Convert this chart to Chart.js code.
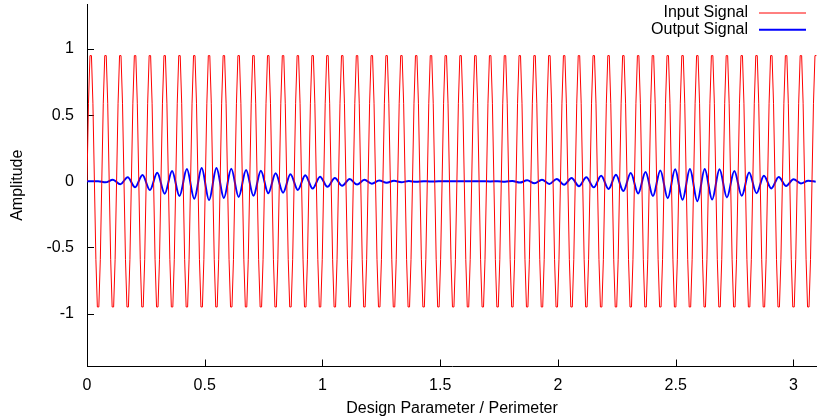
<!DOCTYPE html>
<html>
<head>
<meta charset="utf-8">
<script src="https://cdn.jsdelivr.net/npm/chart.js@4"></script>
<style>
  html, body { margin: 0; padding: 0; background: #fff; }
  #wrap { width: 817px; height: 420px; }
</style>
</head>
<body>
<div id="wrap"><canvas id="chart" width="817" height="420"></canvas></div>
<script>
// Axis ticks
const xTicks = [0, 0.5, 1, 1.5, 2, 2.5, 3];
const yTicks = [-1, -0.5, 0, 0.5, 1];

// Input signal, one sample every pi/500 (10 samples per cycle, one cycle per row)
const inputStep = Math.PI / 500;
const inputValues = [
  0, .59, .95, .95, .59, 0, -.59, -.95, -.95, -.59,
  0, .59, .95, .95, .59, 0, -.59, -.95, -.95, -.59,
  0, .59, .95, .95, .59, 0, -.59, -.95, -.95, -.59,
  0, .59, .95, .95, .59, 0, -.59, -.95, -.95, -.59,
  0, .59, .95, .95, .59, 0, -.59, -.95, -.95, -.59,
  0, .59, .95, .95, .59, 0, -.59, -.95, -.95, -.59,
  0, .59, .95, .95, .59, 0, -.59, -.95, -.95, -.59,
  0, .59, .95, .95, .59, 0, -.59, -.95, -.95, -.59,
  0, .59, .95, .95, .59, 0, -.59, -.95, -.95, -.59,
  0, .59, .95, .95, .59, 0, -.59, -.95, -.95, -.59,
  0, .59, .95, .95, .59, 0, -.59, -.95, -.95, -.59,
  0, .59, .95, .95, .59, 0, -.59, -.95, -.95, -.59,
  0, .59, .95, .95, .59, 0, -.59, -.95, -.95, -.59,
  0, .59, .95, .95, .59, 0, -.59, -.95, -.95, -.59,
  0, .59, .95, .95, .59, 0, -.59, -.95, -.95, -.59,
  0, .59, .95, .95, .59, 0, -.59, -.95, -.95, -.59,
  0, .59, .95, .95, .59, 0, -.59, -.95, -.95, -.59,
  0, .59, .95, .95, .59, 0, -.59, -.95, -.95, -.59,
  0, .59, .95, .95, .59, 0, -.59, -.95, -.95, -.59,
  0, .59, .95, .95, .59, 0, -.59, -.95, -.95, -.59,
  0, .59, .95, .95, .59, 0, -.59, -.95, -.95, -.59,
  0, .59, .95, .95, .59, 0, -.59, -.95, -.95, -.59,
  0, .59, .95, .95, .59, 0, -.59, -.95, -.95, -.59,
  0, .59, .95, .95, .59, 0, -.59, -.95, -.95, -.59,
  0, .59, .95, .95, .59, 0, -.59, -.95, -.95, -.59,
  0, .59, .95, .95, .59, 0, -.59, -.95, -.95, -.59,
  0, .59, .95, .95, .59, 0, -.59, -.95, -.95, -.59,
  0, .59, .95, .95, .59, 0, -.59, -.95, -.95, -.59,
  0, .59, .95, .95, .59, 0, -.59, -.95, -.95, -.59,
  0, .59, .95, .95, .59, 0, -.59, -.95, -.95, -.59,
  0, .59, .95, .95, .59, 0, -.59, -.95, -.95, -.59,
  0, .59, .95, .95, .59, 0, -.59, -.95, -.95, -.59,
  0, .59, .95, .95, .59, 0, -.59, -.95, -.95, -.59,
  0, .59, .95, .95, .59, 0, -.59, -.95, -.95, -.59,
  0, .59, .95, .95, .59, 0, -.59, -.95, -.95, -.59,
  0, .59, .95, .95, .59, 0, -.59, -.95, -.95, -.59,
  0, .59, .95, .95, .59, 0, -.59, -.95, -.95, -.59,
  0, .59, .95, .95, .59, 0, -.59, -.95, -.95, -.59,
  0, .59, .95, .95, .59, 0, -.59, -.95, -.95, -.59,
  0, .59, .95, .95, .59, 0, -.59, -.95, -.95, -.59,
  0, .59, .95, .95, .59, 0, -.59, -.95, -.95, -.59,
  0, .59, .95, .95, .59, 0, -.59, -.95, -.95, -.59,
  0, .59, .95, .95, .59, 0, -.59, -.95, -.95, -.59,
  0, .59, .95, .95, .59, 0, -.59, -.95, -.95, -.59,
  0, .59, .95, .95, .59, 0, -.59, -.95, -.95, -.59,
  0, .59, .95, .95, .59, 0, -.59, -.95, -.95, -.59,
  0, .59, .95, .95, .59, 0, -.59, -.95, -.95, -.59,
  0, .59, .95, .95, .59, 0, -.59, -.95, -.95, -.59,
  0, .59, .95, .95, .59, 0, -.59, -.95, -.95, -.59,
  0, .59, .95, .95
];

// Output signal, read at each half cycle of the input (its peaks and troughs)
const outputStart = Math.PI / 200;
const outputStep = Math.PI / 100;
const outputValues = [
  0, 0, -0.008, 0.012, -0.022, 0.03, -0.045, 0.048, -0.066, 0.064,
  -0.094, 0.078, -0.112, 0.092, -0.132, 0.1, -0.142, 0.1, -0.126, 0.094,
  -0.118, 0.086, -0.11, 0.08, -0.09, 0.06, -0.086, 0.053, -0.065, 0.046,
  -0.055, 0.035, -0.042, 0.024, -0.034, 0.017, -0.025, 0.011, -0.018, 0.006,
  -0.011, 0.004, -0.007, 0.002, -0.004, 0.001, -0.002, 0, 0, 0,
  0, 0, 0, 0, -0.001, 0.001, -0.003, 0.003, -0.01, 0.007,
  -0.015, 0.012, -0.02, 0.018, -0.026, 0.024, -0.037, 0.03, -0.046, 0.042,
  -0.058, 0.05, -0.074, 0.062, -0.092, 0.07, -0.112, 0.082, -0.128, 0.09,
  -0.14, 0.093, -0.15, 0.093, -0.138, 0.09, -0.122, 0.078, -0.11, 0.066,
  -0.09, 0.042, -0.054, 0.033, -0.035, 0.015, -0.016, 0.004, -0.003
];

const FONT = '"Liberation Sans", Arial, sans-serif';
Chart.defaults.font.family = FONT;
Chart.defaults.font.size = 16;
Chart.defaults.color = '#000';

const inputPoints = inputValues.map((v, k) => ({ x: k * inputStep, y: v }));
const outputPoints = [{ x: 0, y: 0 }].concat(
  outputValues.map((v, m) => ({ x: outputStart + m * outputStep, y: v }))
);

// Inward tick marks (gnuplot style)
const innerTicks = {
  id: 'innerTicks',
  beforeDatasetsDraw(chart) {
    const { ctx, chartArea: a, scales: { x, y } } = chart;
    ctx.save();
    ctx.strokeStyle = '#000';
    ctx.lineWidth = 1;
    ctx.beginPath();
    x.ticks.forEach(t => {
      const px = Math.round(x.getPixelForValue(t.value)) + 0.5;
      ctx.moveTo(px, a.bottom);
      ctx.lineTo(px, a.bottom - 7);
    });
    y.ticks.forEach(t => {
      const py = Math.round(y.getPixelForValue(t.value)) + 0.5;
      ctx.moveTo(a.left, py);
      ctx.lineTo(a.left + 7, py);
    });
    ctx.stroke();
    ctx.restore();
  }
};

// Key in the top right corner: text then line sample
const keyBox = {
  id: 'keyBox',
  afterDraw(chart) {
    const { ctx } = chart;
    ctx.save();
    ctx.font = '16px ' + FONT;
    ctx.textAlign = 'right';
    ctx.textBaseline = 'middle';
    chart.data.datasets.forEach((ds, i) => {
      const yy = 13 + i * 16.7;
      ctx.fillStyle = '#000';
      ctx.fillText(ds.label, 748, yy);
      ctx.strokeStyle = ds.borderColor;
      ctx.lineWidth = ds.borderWidth;
      ctx.beginPath();
      ctx.moveTo(759, yy);
      ctx.lineTo(806, yy);
      ctx.stroke();
    });
    ctx.restore();
  }
};

new Chart(document.getElementById('chart'), {
  type: 'line',
  data: {
    datasets: [
      {
        label: 'Input Signal',
        data: inputPoints,
        borderColor: '#ff0000',
        borderWidth: 1,
        pointRadius: 0,
        tension: 0
      },
      {
        label: 'Output Signal',
        data: outputPoints,
        borderColor: '#0000ff',
        borderWidth: 2,
        pointRadius: 0,
        cubicInterpolationMode: 'monotone'
      }
    ]
  },
  options: {
    responsive: false,
    animation: false,
    events: [],
    layout: { padding: { top: 4, left: 0, right: 0, bottom: 0 } },
    plugins: {
      legend: { display: false },
      tooltip: { enabled: false }
    },
    scales: {
      x: {
        type: 'linear',
        min: 0,
        max: 3.1,
        afterBuildTicks: s => { s.ticks = xTicks.map(v => ({ value: v })); },
        afterFit: s => { s.height = 53.5; s.paddingLeft = 0; s.paddingRight = 0; },
        ticks: { padding: 9, maxRotation: 0, autoSkip: false, callback: v => String(v) },
        grid: { display: false, drawTicks: false },
        border: { display: true, color: '#000', width: 1 },
        title: { display: true, text: 'Design Parameter / Perimeter', padding: { top: 0, bottom: 2 } }
      },
      y: {
        type: 'linear',
        min: -1.4,
        max: 1.34,
        afterBuildTicks: s => { s.ticks = yTicks.map(v => ({ value: v })); },
        afterFit: s => { s.width = 87; s.paddingTop = 0; s.paddingBottom = 0; },
        ticks: { padding: 13, callback: v => String(v) },
        grid: { display: false, drawTicks: false },
        border: { display: true, color: '#000', width: 1 },
        title: { display: true, text: 'Amplitude', padding: { top: 8, bottom: 0 } }
      }
    }
  },
  plugins: [innerTicks, keyBox]
});
</script>
</body>
</html>
